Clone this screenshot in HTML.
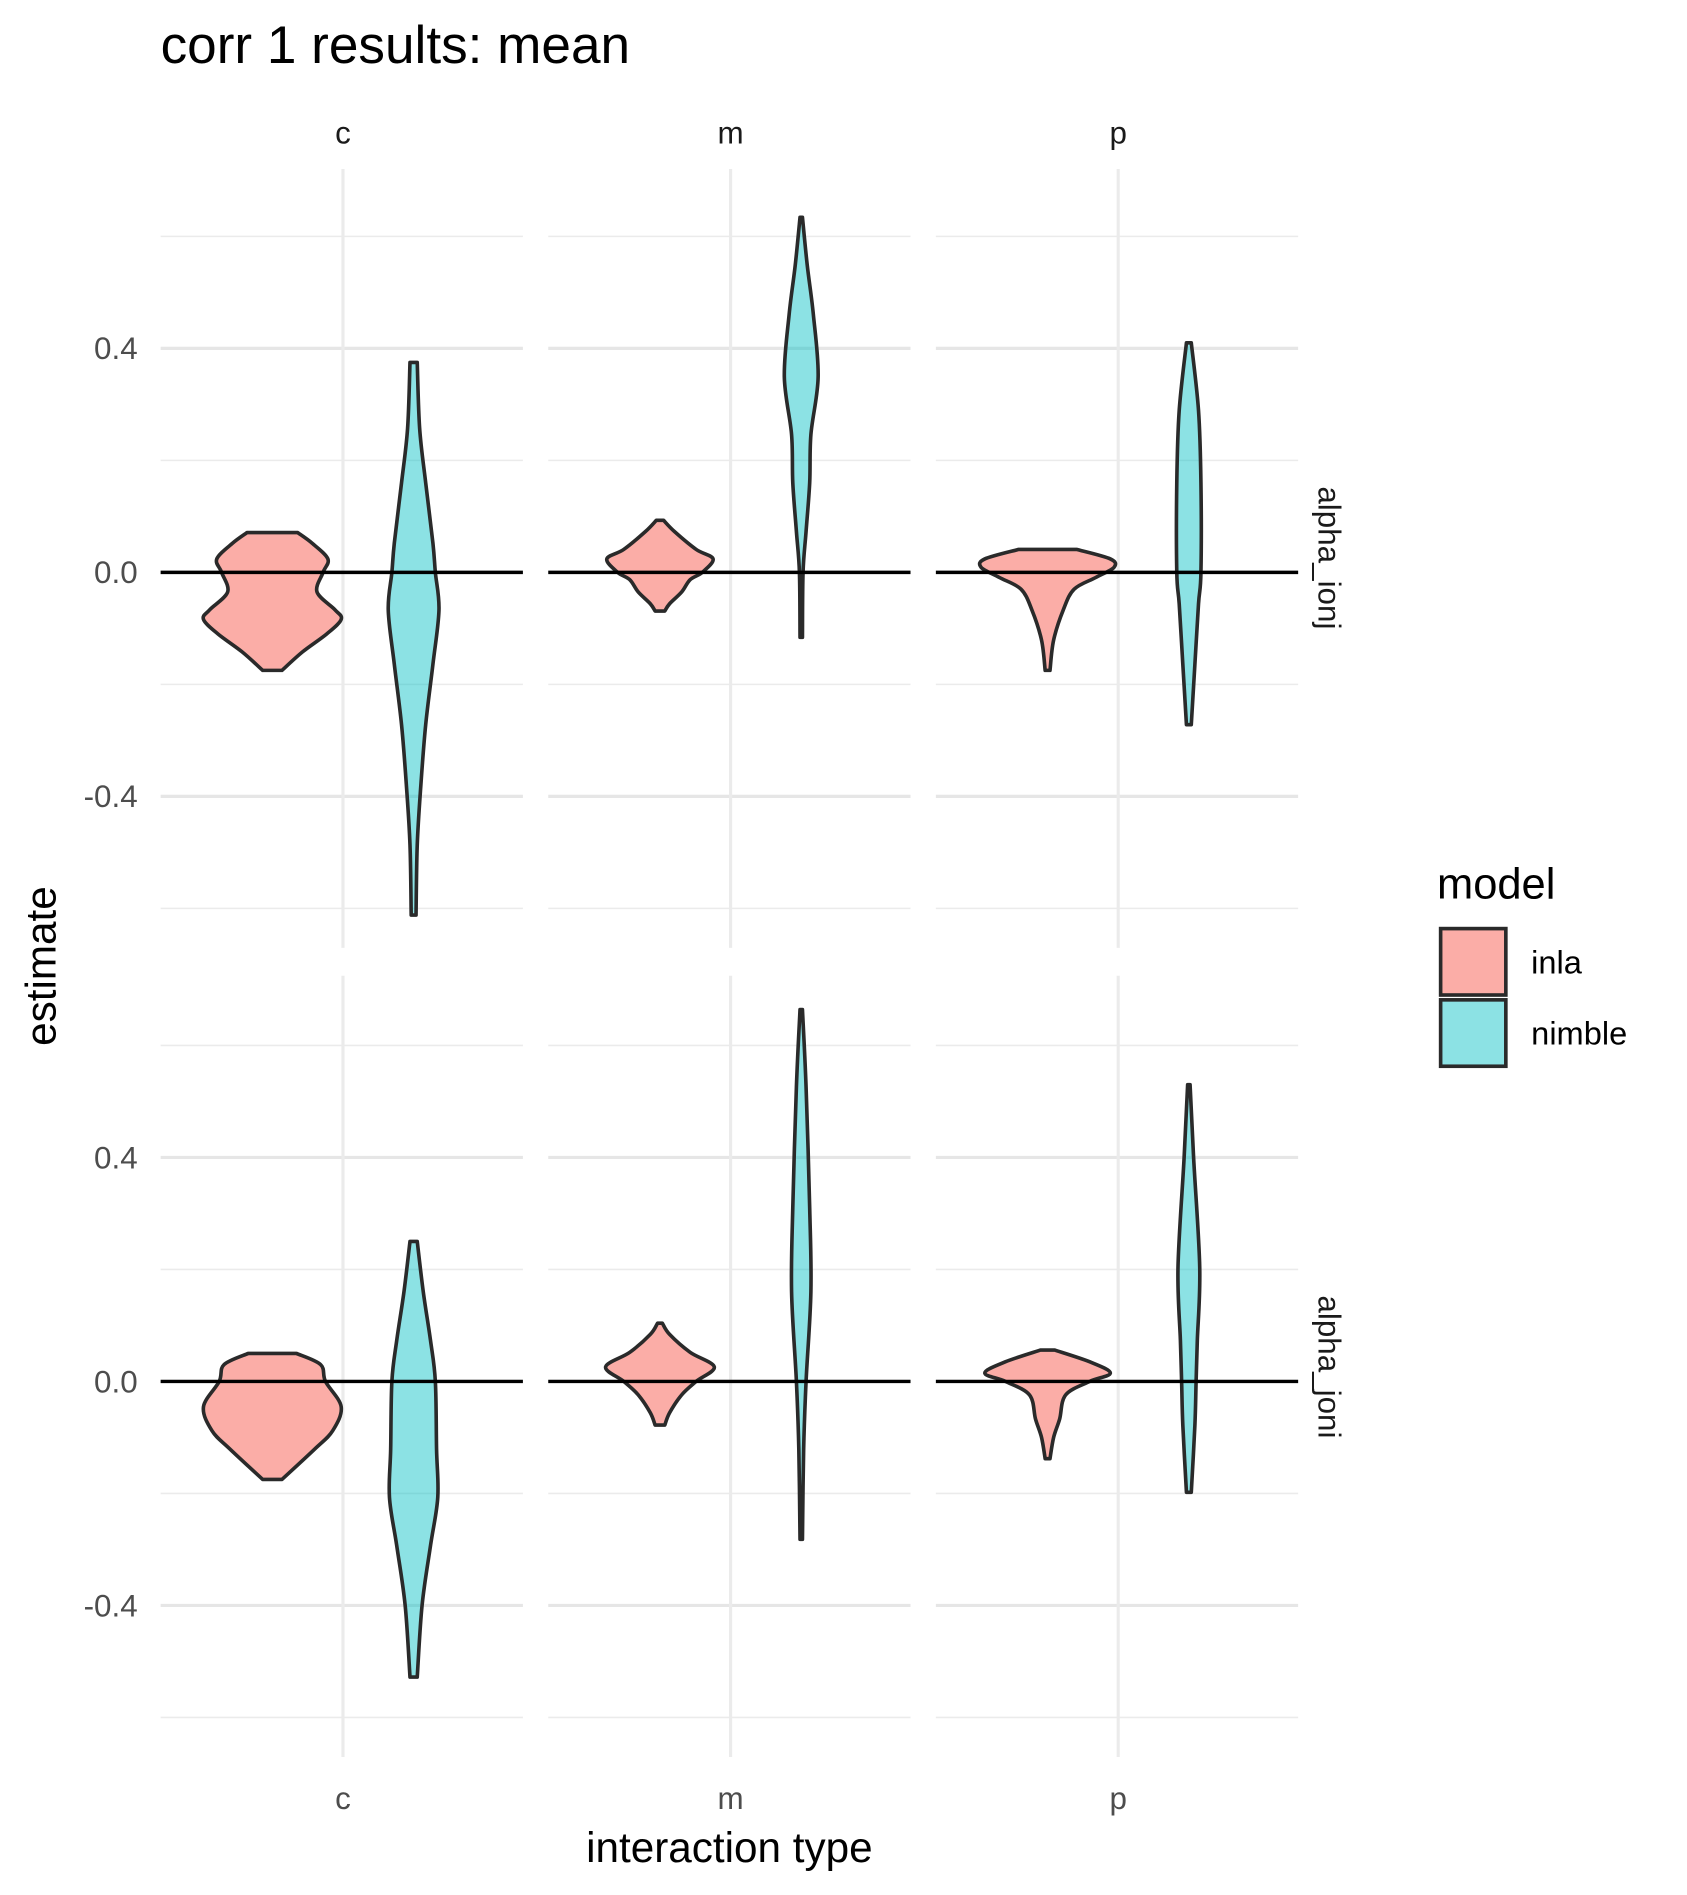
<!DOCTYPE html>
<html><head><meta charset="utf-8"><style>
html,body{margin:0;padding:0;background:#fff;}
svg{display:block;font-family:"Liberation Sans",Arial,sans-serif;}
</style></head><body>
<svg id="chart" width="1687" height="1895" viewBox="0 0 1397 1569.3">
<rect width="1397" height="1569.3" fill="#fff"/>
<text x="133" y="52" font-size="44" fill="#000">corr 1 results: mean</text>
<g id="grid"></g><g id="marks"></g><g id="labels"></g>
<text transform="translate(46,800) rotate(-90)" text-anchor="middle" font-size="35">estimate</text>
<text x="604" y="1542" text-anchor="middle" font-size="35">interaction type</text>
<g>
<text x="1190" y="744" font-size="36">model</text>
<rect x="1193" y="769" width="54" height="55" fill="#F8766D" fill-opacity="0.6" stroke="#2a2a2a" stroke-width="3"/>
<text x="1268" y="806" font-size="27">inla</text>
<rect x="1193" y="828" width="54" height="55" fill="#00BFC4" fill-opacity="0.45" stroke="#2a2a2a" stroke-width="3"/>
<text x="1268" y="865" font-size="27">nimble</text>
</g>
</svg>
<script>
const categories = ["c","m","p"];
const rows = ["alpha_ionj","alpha_joni"];
const models = ["inla","nimble"];
const yTicks = [-0.4, 0, 0.4];
const yTickLabels = ["-0.4","0.0","0.4"];
const yMinor = [-0.6,-0.2,0.2,0.6];
// violin profiles: [value, density-halfwidth]
const ionj_c_inla = [[0.071,21],[0.052,33],[0.024,46],[0,42],[-0.035,37],[-0.067,52],[-0.084,57],[-0.11,45],[-0.142,25],[-0.175,8]];
const ionj_c_nimble = [[0.375,3],[0.257,5],[0.16,10],[0.052,16],[0,18],[-0.067,21],[-0.164,16],[-0.272,10],[-0.38,6],[-0.487,3],[-0.612,2]];
const ionj_m_inla = [[0.093,3],[0.073,12],[0.041,30],[0.024,44],[0,35],[-0.013,25],[-0.035,18],[-0.056,8],[-0.069,4]];
const ionj_m_nimble = [[0.634,1],[0.548,5],[0.461,10],[0.349,14],[0.246,8],[0.16,7],[0.073,4],[0,1.5],[-0.116,1]];
const ionj_p_inla = [[0.041,24],[0.024,52],[0.009,55],[-0.009,40],[-0.03,22],[-0.067,13],[-0.121,5],[-0.175,2]];
const ionj_p_nimble = [[0.41,2],[0.289,8],[0.16,10],[0,10],[-0.056,8],[-0.164,5],[-0.272,2]];
const joni_c_inla = [[0.05,20],[0.03,40],[0,44],[-0.045,57],[-0.088,50],[-0.121,35],[-0.175,8]];
const joni_c_nimble = [[0.25,3],[0.16,8],[0.073,14],[0,18],[-0.121,19],[-0.207,20],[-0.293,14],[-0.4,7],[-0.528,3]];
const joni_m_inla = [[0.104,2],[0.084,8],[0.052,25],[0.026,45],[0,30],[-0.024,18],[-0.056,8],[-0.078,4]];
const joni_m_nimble = [[0.664,1],[0.526,4],[0.31,7],[0.16,8],[0,4],[-0.121,2],[-0.282,1]];
const joni_p_inla = [[0.056,6],[0.035,35],[0.015,52],[0,35],[-0.024,15],[-0.067,10],[-0.1,5],[-0.138,2]];
const joni_p_nimble = [[0.53,1],[0.397,4],[0.203,9],[0.073,7],[0,6],[-0.078,5],[-0.198,2]];
const violins = {
 alpha_ionj:{c:{inla:ionj_c_inla,nimble:ionj_c_nimble},m:{inla:ionj_m_inla,nimble:ionj_m_nimble},p:{inla:ionj_p_inla,nimble:ionj_p_nimble}},
 alpha_joni:{c:{inla:joni_c_inla,nimble:joni_c_nimble},m:{inla:joni_m_inla,nimble:joni_m_nimble},p:{inla:joni_p_inla,nimble:joni_p_nimble}}
};
const NS="http://www.w3.org/2000/svg";
const panelX=[133,454,775], panelW=300;
const rowZero=[474,1144], rowTop=[140,808], rowBot=[785,1455];
const pxPerUnit=463.75;
const colors={inla:"#F8766D",nimble:"#00BFC4"};
const alphas={inla:0.6,nimble:0.45};
const dodge={inla:-58.5,nimble:58.5};
function yScale(r,v){return rowZero[r]-v*pxPerUnit;}
function xCenter(ci){return panelX[ci]+panelW/2+1;}
function mk(tag,attrs,parent){const e=document.createElementNS(NS,tag);for(const k in attrs)e.setAttribute(k,attrs[k]);parent.appendChild(e);return e;}
const grid=document.getElementById('grid'),marks=document.getElementById('marks'),labels=document.getElementById('labels');
function smoothPath(pts){
 let d="M"+pts[0][0]+","+pts[0][1];
 for(let i=0;i<pts.length-1;i++){
  const p0=pts[Math.max(i-1,0)],p1=pts[i],p2=pts[i+1],p3=pts[Math.min(i+2,pts.length-1)];
  const c1=[p1[0]+(p2[0]-p0[0])/6,p1[1]+(p2[1]-p0[1])/6],c2=[p2[0]-(p3[0]-p1[0])/6,p2[1]-(p3[1]-p1[1])/6];
  d+=" C"+c1+" "+c2+" "+p2;
 }
 return d;
}
rows.forEach((row,r)=>{
 categories.forEach((cat,ci)=>{
  const x0=panelX[ci],x1=x0+panelW;
  yMinor.forEach(v=>{const l=mk('line',{x1:x0,x2:x1,y1:yScale(r,v),y2:yScale(r,v),stroke:'#ebebeb','stroke-width':1.3},grid);
   });
  yTicks.forEach(v=>{const l=mk('line',{x1:x0,x2:x1,y1:yScale(r,v),y2:yScale(r,v),stroke:'#e6e6e6','stroke-width':2.6},grid);
   });
  const vl=mk('line',{x1:xCenter(ci),x2:xCenter(ci),y1:rowTop[r],y2:rowBot[r],stroke:'#ebebeb','stroke-width':2.6},grid);
  
  models.forEach(m=>{
   const prof=violins[row][cat][m], cx=xCenter(ci)+dodge[m];
   const right=prof.map(p=>[cx+p[1],yScale(r,p[0])]);
   const left=prof.slice().reverse().map(p=>[cx-p[1],yScale(r,p[0])]);
   const d=smoothPath(right)+" L"+left[0]+" "+smoothPath(left).slice(1).replace(/^[^C]*/,"")+" Z";
   const path=mk('path',{d:d,fill:colors[m],'fill-opacity':alphas[m],stroke:'#2a2a2a','stroke-width':3,'stroke-linejoin':'round'},marks);
   
   
  });
  const hz=mk('line',{x1:x0,x2:x1,y1:yScale(r,0),y2:yScale(r,0),stroke:'#000','stroke-width':2.8},marks);
  
 });
 yTicks.forEach((v,i)=>{const t=mk('text',{x:114,y:yScale(r,v)+9,'text-anchor':'end','font-size':26,fill:'#4d4d4d'},labels);t.textContent=yTickLabels[i];
  });
 const st=mk('text',{transform:'translate(1092,'+(r===0?462:1132)+') rotate(90)','text-anchor':'middle','font-size':26,fill:'#1a1a1a'},labels);
 st.textContent=row;
});
categories.forEach((cat,ci)=>{
 const s=mk('text',{x:xCenter(ci),y:119,'text-anchor':'middle','font-size':26,fill:'#1a1a1a'},labels);s.textContent=cat;
 
 const t=mk('text',{x:xCenter(ci),y:1498,'text-anchor':'middle','font-size':26,fill:'#4d4d4d'},labels);t.textContent=cat;
 
});
</script>
</body></html>
